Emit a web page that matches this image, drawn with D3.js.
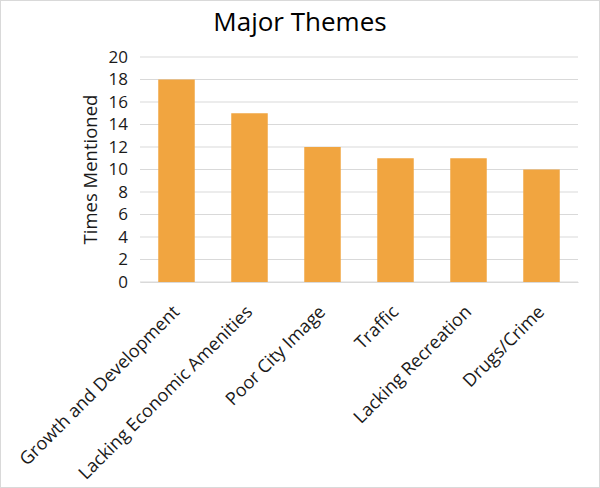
<!DOCTYPE html>
<html>
<head>
<meta charset="utf-8">
<script src="https://cdn.jsdelivr.net/npm/d3@7"></script>
<style>
  body { margin: 0; background: #fff; }
  svg { font-family: "Open Sans", sans-serif; }
</style>
</head>
<body>
<svg></svg>
<script>
// Data
const themes = ["Growth and Development", "Lacking Economic Amenities", "Poor City Image",
  "Traffic", "Lacking Recreation", "Drugs/Crime"];
const mentions = [18, 15, 12, 11, 11, 10];
const yTicks = [0, 2, 4, 6, 8, 10, 12, 14, 16, 18, 20];

const width = 600;
const height = 488;
const margin = { top: 57, right: 22, bottom: 206, left: 140 };

const svg = d3.select("svg")
  .attr("width", width)
  .attr("height", height);

// outer border
svg.append("rect")
  .attr("x", 0.5).attr("y", 0.5)
  .attr("width", width - 1).attr("height", height - 1)
  .attr("fill", "#fff")
  .attr("stroke", "#d9d9d9");

const chartWidth = width - margin.left - margin.right;
const chartHeight = height - margin.top - margin.bottom;

const chart = svg.append("g")
  .attr("transform", `translate(${margin.left}, ${margin.top})`);

// Scales
const xScale = d3.scaleBand()
  .domain(themes)
  .range([0, chartWidth])
  .paddingInner(0.5)
  .paddingOuter(0.25);

const yScale = d3.scaleLinear()
  .domain([0, 20])
  .range([chartHeight, 0]);

// Gridlines
chart.append("g")
  .selectAll("line")
  .data(yTicks)
  .enter()
  .append("line")
  .attr("x1", 0)
  .attr("x2", chartWidth)
  .attr("y1", d => yScale(d))
  .attr("y2", d => yScale(d))
  .attr("stroke", "#d9d9d9")
  .attr("stroke-width", 1);

// Y axis
const yAxis = chart.append("g")
  .call(d3.axisLeft(yScale).tickValues(yTicks).tickSize(0).tickPadding(12));
yAxis.select(".domain").remove();
yAxis.selectAll("text")
  .attr("font-size", 17)
  .attr("fill", "#1a1a1a")
  .style("font-family", "'Open Sans', sans-serif");

// Bars
chart.selectAll(".bar")
  .data(themes)
  .enter()
  .append("rect")
  .attr("class", "bar")
  .attr("x", (d) => xScale(d))
  .attr("y", (d, i) => yScale(mentions[i]))
  .attr("width", xScale.bandwidth())
  .attr("height", (d, i) => chartHeight - yScale(mentions[i]))
  .attr("fill", "#f1a540");

// X axis
const xAxis = chart.append("g")
  .attr("transform", `translate(0, ${chartHeight})`)
  .call(d3.axisBottom(xScale).tickSize(0).tickPadding(0));
xAxis.select(".domain").attr("stroke", "#d9d9d9");
xAxis.selectAll("text")
  .attr("font-size", 18)
  .attr("fill", "#1a1a1a")
  .style("font-family", "'Open Sans', sans-serif")
  .attr("text-anchor", "end")
  .attr("dy", null)
  .attr("y", 0)
  .attr("transform", "translate(4, 31) rotate(-45)");

// Y axis label
svg.append("text")
  .attr("transform", `translate(97, ${margin.top + chartHeight / 2}) rotate(-90)`)
  .attr("text-anchor", "middle")
  .attr("font-size", 18.5)
  .attr("fill", "#1a1a1a")
  .text("Times Mentioned");

// Title
svg.append("text")
  .attr("x", width / 2)
  .attr("y", 31)
  .attr("text-anchor", "middle")
  .attr("font-size", 26)
  .attr("fill", "#000")
  .text("Major Themes");
</script>
</body>
</html>
